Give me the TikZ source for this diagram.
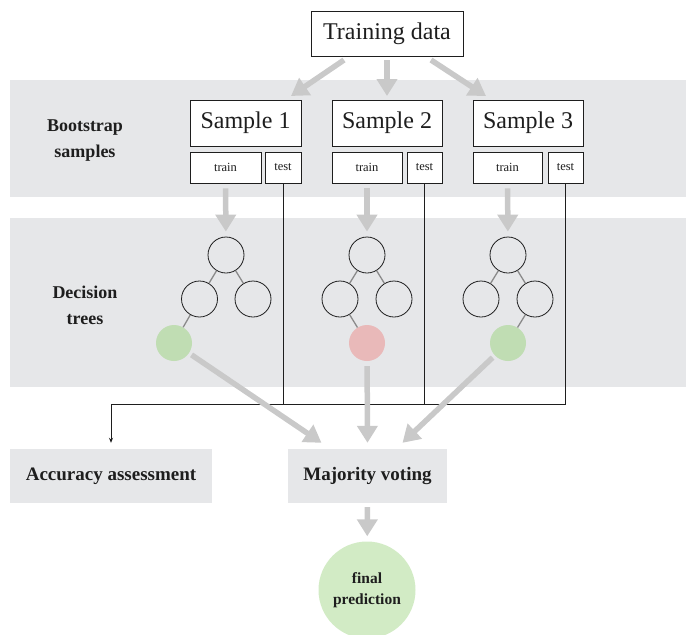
\documentclass[tikz,border=0pt]{standalone}
\usepackage{fontspec}
\setmainfont{Liberation Serif}
\usetikzlibrary{arrows.meta}
\definecolor{bandgray}{HTML}{E6E7E9}
\definecolor{arrowgray}{HTML}{C9C9C9}
\definecolor{leafgreen}{HTML}{C0DDB3}
\definecolor{leafred}{HTML}{E9B9B9}
\definecolor{finalgreen}{HTML}{D2EBC5}
\definecolor{ink}{HTML}{1E1E1E}
\definecolor{edgegray}{HTML}{8A8A8A}
\tikzset{
  band/.style={fill=bandgray, draw=none},
  box/.style={draw=ink, line width=0.8pt, fill=white, inner sep=0pt, text=ink},
  bigbox/.style={box, minimum height=46pt, font=\fontsize{24}{28}\selectfont},
  smallbox/.style={box, minimum height=31pt, font=\fontsize{12.5}{14}\selectfont},
  tnode/.style={circle, draw=ink, line width=0.8pt, minimum size=36pt, inner sep=0pt},
  leaf/.style={circle, draw=none, minimum size=36pt, inner sep=0pt},
  treeedge/.style={draw=edgegray, line width=1.3pt},
  bigarrow/.style={draw=arrowgray, line width=5.5pt,
    -{Triangle[width=20pt,length=17pt]}, arrowgray},
  testline/.style={draw=ink, line width=0.7pt},
  sidelabel/.style={font=\bfseries\fontsize{18}{26}\selectfont, align=center, text=ink},
  graybox/.style={fill=bandgray, inner sep=0pt, text=ink,
    font=\bfseries\fontsize{19}{22}\selectfont, minimum height=54pt}
}
\begin{document}
\begin{tikzpicture}[x=1pt, y=-1pt]
\useasboundingbox (0,0) rectangle (686,635);

% background bands
\fill[band] (10,80) rectangle (686,197);
\fill[band] (10,218) rectangle (686,387);

% row labels
\node[sidelabel] (lboot) at (85,141) {Bootstrap\\samples};
\node[sidelabel] (ltree) at (85,305) {Decision\\trees};

% training data
\node[box, minimum width=152pt, minimum height=45pt,
      font=\fontsize{24}{28}\selectfont] (td) at (387,33.5) {Training data};

% bootstrap samples with their train/test parts
\node[bigbox, minimum width=111pt] (s1) at (245.5,123) {Sample 1};
\node[bigbox, minimum width=110pt] (s2) at (387,123) {Sample 2};
\node[bigbox, minimum width=110pt] (s3) at (528,123) {Sample 3};

\node[smallbox, minimum width=71pt] (tr1) at (225.5,167.5) {train};
\node[smallbox, minimum width=36pt] (te1) at (283,167.5) {test};
\node[smallbox, minimum width=70pt] (tr2) at (367,167.5) {train};
\node[smallbox, minimum width=35pt] (te2) at (424.5,167.5) {test};
\node[smallbox, minimum width=69pt] (tr3) at (507.5,167.5) {train};
\node[smallbox, minimum width=35pt] (te3) at (565.5,167.5) {test};

% arrows from the training data to the samples
\coordinate (o1) at (344,60);
\coordinate (o2) at (387,60);
\coordinate (o3) at (431,60);
\coordinate (i1) at (291,96);
\coordinate (i2) at (387,96);
\coordinate (i3) at (486,96);
\draw[bigarrow] (o1) -- (i1);
\draw[bigarrow] (o2) -- (i2);
\draw[bigarrow] (o3) -- (i3);

% decision trees
\node[tnode] (r1) at (226,255) {};
\node[tnode] (a1) at (199.5,299) {};
\node[tnode] (b1) at (253,299) {};
\node[leaf, fill=leafgreen] (f1) at (174,343) {};

\node[tnode] (r2) at (367,255) {};
\node[tnode] (a2) at (340,299) {};
\node[tnode] (b2) at (394,299) {};
\node[leaf, fill=leafred] (f2) at (367,343) {};

\node[tnode] (r3) at (508,255) {};
\node[tnode] (a3) at (481,299) {};
\node[tnode] (b3) at (535,299) {};
\node[leaf, fill=leafgreen] (f3) at (508,343) {};

\draw[treeedge] (r1) -- (a1);
\draw[treeedge] (r1) -- (b1);
\draw[treeedge] (a1) -- (f1);
\draw[treeedge] (r2) -- (a2);
\draw[treeedge] (r2) -- (b2);
\draw[treeedge] (a2) -- (f2);
\draw[treeedge] (r3) -- (a3);
\draw[treeedge] (r3) -- (b3);
\draw[treeedge] (b3) -- (f3);

% train parts feed the trees
\draw[bigarrow, shorten <=5pt, shorten >=5pt] (tr1) -- (r1);
\draw[bigarrow, shorten <=5pt, shorten >=5pt] (tr2) -- (r2);
\draw[bigarrow, shorten <=5pt, shorten >=5pt] (tr3) -- (r3);

% bottom boxes
\node[graybox, minimum width=202pt] (acc) at (111,476) {Accuracy assessment};
\node[graybox, minimum width=159pt] (mv) at (367.5,476) {Majority voting};
\node[circle, fill=finalgreen, minimum size=97pt, inner sep=0pt,
      font=\bfseries\fontsize{15.5}{21}\selectfont, align=center, text=ink]
      (fp) at (367,590) {final\\prediction};

% test parts go to the accuracy assessment
\coordinate (bus) at (0,404);
\draw[testline] (te1.south) -- (te1.south |- bus);
\draw[testline] (te2.south) -- (te2.south |- bus);
\draw[testline, -{Stealth[length=5pt,width=4pt]}] (te3.south) |- (acc.north |- bus)
  -- ([yshift=6pt]acc.north);

% leaves vote
\draw[bigarrow, shorten <=3pt] (f1) -- ([xshift=-46pt,yshift=6pt]mv.north);
\draw[bigarrow, shorten <=5pt] (f2) -- ([yshift=6pt]mv.north);
\draw[bigarrow, shorten <=3pt] (f3) -- ([xshift=35pt,yshift=6pt]mv.north);

% voting gives the final prediction
\draw[bigarrow, shorten <=4pt, shorten >=5pt] (mv) -- (fp);
\end{tikzpicture}
\end{document}
